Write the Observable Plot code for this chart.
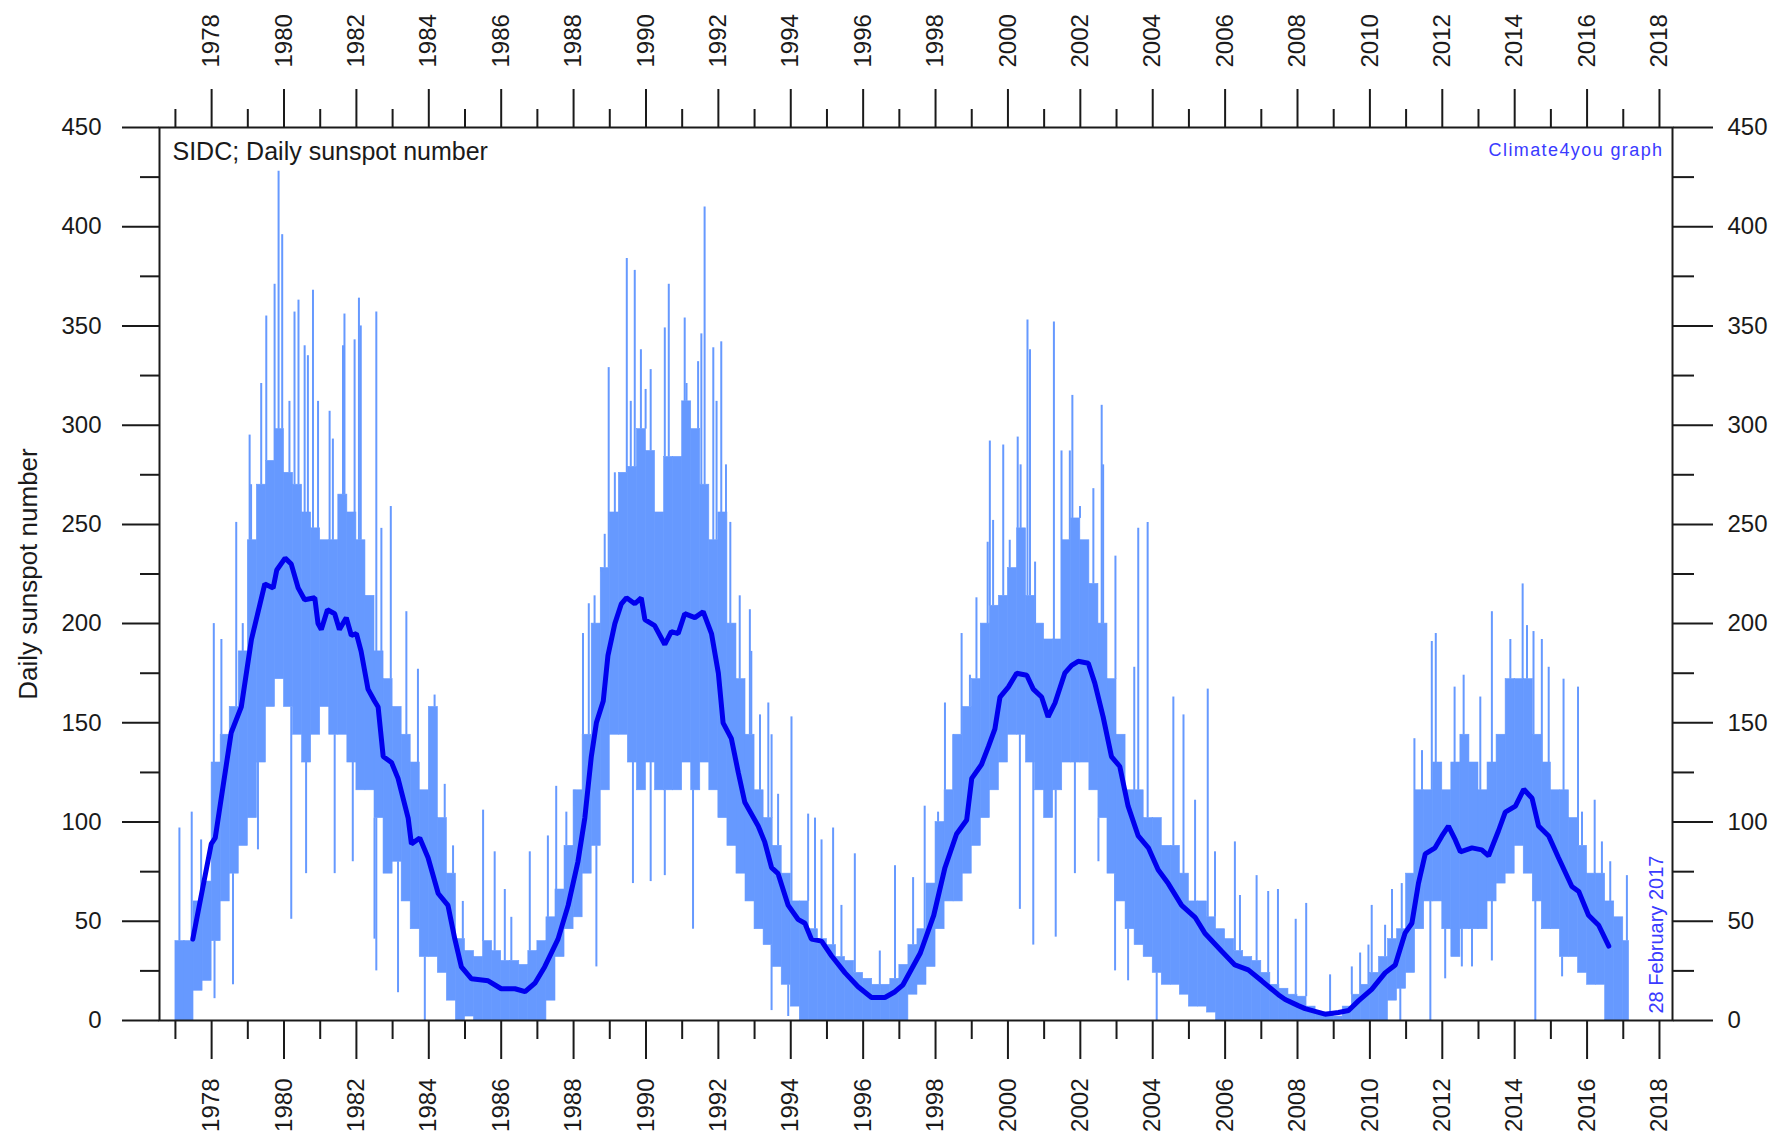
<!DOCTYPE html>
<html><head><meta charset="utf-8">
<script src="https://cdn.jsdelivr.net/npm/d3@7"></script>
<script src="https://cdn.jsdelivr.net/npm/@observablehq/plot@0.6"></script>
<style>body{margin:0;background:#fff} svg{display:block}</style>
</head><body><div id="chart"></div>
<script>
// ---- Daily sunspot number: dense core band per quarter-year ----
const bandStartYear = 1977.0;
const bandStep = 0.25;
const dataEndYear = 2017.16;
const bandLow = [
  0, 0, 15, 20,        // 1977
  40, 60, 74, 88,      // 1978
  102, 130, 158, 172,  // 1979
  158, 144, 130, 144,  // 1980
  158, 144, 144, 130,  // 1981
  116, 116, 102, 74,   // 1982
  80, 60, 46, 32,      // 1983
  32, 24, 10, 0,       // 1984
  2, 0, 0, 0,          // 1985
  0, 0, 0, 0,          // 1986
  0, 10, 32, 46,       // 1987
  52, 74, 88, 116,     // 1988
  144, 144, 130, 116,  // 1989
  130, 116, 116, 116,  // 1990
  130, 116, 130, 116,  // 1991
  102, 88, 74, 60,     // 1992
  46, 38, 27, 18,      // 1993
  7, 0, 0, 0,          // 1994
  0, 0, 0, 0,          // 1995
  0, 0, 0, 0,          // 1996
  0, 13, 18, 27,       // 1997
  46, 60, 60, 74,      // 1998
  88, 102, 116, 130,   // 1999
  144, 144, 130, 116,  // 2000
  102, 116, 130, 130,  // 2001
  130, 116, 102, 74,   // 2002
  60, 46, 38, 32,      // 2003
  24, 18, 18, 13,      // 2004
  7, 7, 4, 0,          // 2005
  0, 0, 0, 0,          // 2006
  0, 0, 0, 0,          // 2007
  0, 0, 0, 0,          // 2008
  0, 0, 0, 0,          // 2009
  0, 0, 10, 16,        // 2010
  24, 46, 60, 60,      // 2011
  46, 32, 46, 46,      // 2012
  46, 60, 69, 74,      // 2013
  88, 74, 60, 46,      // 2014
  46, 32, 32, 24,      // 2015
  18, 18, 0, 0,        // 2016
  0                    // 2017
];
const bandHigh = [
  40, 40, 60, 70,
  130, 144, 158, 186,
  242, 270, 282, 298,
  276, 270, 256, 248,
  242, 242, 265, 256,
  242, 214, 186, 172,
  158, 144, 130, 116,
  158, 102, 74, 41,
  35, 32, 40, 35,
  30, 30, 28, 35,
  40, 52, 66, 88,
  116, 144, 200, 228,
  256, 276, 279, 298,
  287, 256, 284, 284,
  312, 298, 270, 242,
  256, 200, 172, 144,
  116, 102, 88, 74,
  60, 60, 46, 41,
  38, 32, 30, 24,
  21, 18, 18, 21,
  28, 38, 46, 69,
  100, 116, 144, 158,
  172, 200, 209, 214,
  228, 248, 214, 200,
  192, 192, 242, 253,
  242, 220, 200, 172,
  144, 116, 116, 102,
  102, 88, 88, 74,
  60, 60, 52, 46,
  41, 35, 32, 30,
  24, 18, 16, 13,
  12, 7, 4, 4,
  2, 7, 13, 18,
  24, 32, 41, 46,
  74, 116, 116, 130,
  116, 130, 144, 130,
  116, 130, 144, 172,
  172, 172, 144, 130,
  116, 116, 102, 88,
  74, 74, 60, 52,
  40
];

// ---- Individual tall daily spikes ----
const spikeYears = [
  1977.11, 1977.45, 1977.71, 1978.06, 1978.27, 1978.68, 1978.86, 1979.05, 1979.09, 1979.37,
  1979.51, 1979.74, 1979.85, 1979.95, 1980.15, 1980.29, 1980.40, 1980.57, 1980.66, 1980.80,
  1980.94, 1981.26, 1981.35, 1981.63, 1981.67, 1981.95, 1982.07, 1982.12, 1982.55, 1982.69,
  1982.95, 1983.38, 1983.70, 1984.16, 1984.44, 1984.67, 1984.94, 1985.50, 1985.82, 1986.10,
  1986.28, 1986.79, 1987.29, 1987.52, 1987.80, 1988.03, 1988.26, 1988.42, 1988.58, 1988.77,
  1988.86, 1988.97, 1989.14, 1989.47, 1989.58, 1989.69, 1989.86, 1989.99, 1990.13, 1990.52,
  1990.63, 1991.07, 1991.12, 1991.44, 1991.53, 1991.62, 1991.86, 1991.95, 1992.08, 1992.21,
  1992.33, 1992.59, 1992.87, 1992.91, 1993.15, 1993.38, 1993.47, 1993.65, 1994.02, 1994.48,
  1994.67, 1994.85, 1995.17, 1995.40, 1995.77, 1996.46, 1996.88,
  1997.38, 1997.70, 1998.07, 1998.26, 1998.49, 1998.72, 1998.95, 1999.13, 1999.44, 1999.50,
  1999.59, 1999.87, 2000.05, 2000.27, 2000.35, 2000.54, 2000.61, 2000.75, 2001.27, 2001.48,
  2001.71, 2001.78, 2001.99, 2002.36, 2002.59, 2002.63, 2002.97, 2003.49, 2003.60, 2003.86,
  2004.57, 2004.85, 2005.17, 2005.52, 2005.72, 2006.27, 2006.41, 2006.87, 2007.19, 2007.46,
  2007.95, 2008.24, 2008.90, 2009.50, 2009.73, 2009.96, 2010.05, 2010.42, 2010.61, 2010.88,
  2011.23, 2011.44, 2011.71, 2011.82, 2012.34, 2012.59, 2013.05, 2013.37, 2013.88, 2014.22,
  2014.34, 2014.52, 2014.75, 2014.94, 2015.35, 2015.75, 2015.86, 2016.21, 2016.41, 2016.64,
  2017.10
];
const spikeTops = [
  97, 105, 91, 200, 192, 251, 200, 295, 270, 321,
  355, 371, 428, 396, 312, 357, 363, 340, 335, 368,
  312, 307, 293, 340, 356, 343, 364, 350, 357, 248,
  259, 206, 177, 164, 119, 88, 60, 106, 85, 66,
  52, 85, 93, 118, 105, 108, 195, 210, 214, 226,
  245, 329, 276, 384, 312, 378, 338, 318, 328, 349,
  371, 354, 321, 332, 346, 410, 339, 312, 342, 280,
  251, 214, 207, 186, 154, 160, 144, 114, 153, 104,
  102, 91, 97, 58, 84, 35, 78,
  72, 108, 105, 160, 144, 195, 174, 213, 241, 292,
  252, 290, 242, 294, 280, 353, 338, 231, 352, 287,
  287, 315, 259, 268, 310, 280, 234, 178, 248, 251,
  163, 154, 111, 167, 85, 90, 63, 73, 65, 66,
  51, 59, 23, 27, 34, 38, 58, 48, 66, 69,
  142, 136, 191, 195, 168, 174, 163, 206, 192, 220,
  199, 196, 192, 178, 172, 168, 105, 111, 90, 80,
  73
];

// ---- Individual deep daily drops ----
const dipYears = [
  1978.08, 1978.59, 1979.28, 1980.20, 1980.61, 1981.40, 1981.90, 1982.50, 1982.55, 1983.15,
  1983.89, 1988.63, 1989.64, 1990.13, 1990.52, 1991.30, 1993.47, 1993.93, 2000.33, 2000.70,
  2001.32, 2001.85, 2002.50, 2002.96, 2003.32, 2004.11, 2010.84, 2011.67, 2012.08, 2012.54,
  2012.82, 2013.37, 2014.57, 2015.31
];
const dipBottoms = [
  11, 18, 86, 51, 74, 74, 80, 41, 25, 14,
  0, 27, 69, 70, 73, 46, 5, 2, 56, 38,
  42, 74, 80, 25, 20, 0, 0, 0, 21, 27,
  27, 30, 0, 22
];

// ---- Running mean (dark blue curve) ----
const smoothYears = [
  1977.48, 1977.99, 1978.10, 1978.54, 1978.82, 1979.10, 1979.47, 1979.70, 1979.80, 1980.03,
  1980.20, 1980.39, 1980.57, 1980.85, 1980.94, 1981.03, 1981.20, 1981.40, 1981.53, 1981.72,
  1981.86, 1982.00, 1982.13, 1982.32, 1982.50, 1982.60, 1982.74, 1982.97, 1983.15, 1983.43,
  1983.52, 1983.75, 1983.98, 1984.26, 1984.53, 1984.72, 1984.90, 1985.18, 1985.64, 1986.00,
  1986.38, 1986.66, 1986.94, 1987.20, 1987.57, 1987.85, 1988.12, 1988.31, 1988.49, 1988.63,
  1988.82, 1988.95, 1989.14, 1989.32, 1989.46, 1989.69, 1989.87, 1989.97, 1990.24, 1990.52,
  1990.70, 1990.89, 1991.07, 1991.35, 1991.58, 1991.81, 1992.00, 1992.13, 1992.36, 1992.55,
  1992.73, 1993.10, 1993.28, 1993.47, 1993.65, 1993.93, 1994.20, 1994.39, 1994.57, 1994.85,
  1995.13, 1995.50, 1995.86, 1996.23, 1996.60, 1996.88, 1997.10, 1997.58, 1997.95, 1998.26,
  1998.58, 1998.86, 1999.00, 1999.27, 1999.46, 1999.64, 1999.78, 2000.01, 2000.24, 2000.52,
  2000.70, 2000.93, 2001.11, 2001.30, 2001.57, 2001.76, 2001.94, 2002.22, 2002.40, 2002.63,
  2002.86, 2003.09, 2003.32, 2003.60, 2003.88, 2004.15, 2004.43, 2004.80, 2005.17, 2005.44,
  2005.90, 2006.27, 2006.64, 2007.01, 2007.47, 2007.66, 2008.02, 2008.21, 2008.76, 2009.13,
  2009.41, 2009.69, 2010.05, 2010.42, 2010.70, 2010.97, 2011.16, 2011.34, 2011.53, 2011.80,
  2011.99, 2012.17, 2012.36, 2012.50, 2012.82, 2013.09, 2013.28, 2013.55, 2013.74, 2014.02,
  2014.25, 2014.48, 2014.66, 2014.94, 2015.21, 2015.58, 2015.77, 2016.04, 2016.32, 2016.60
];
const smoothValues = [
  41, 89, 92, 145, 158, 192, 220, 218, 227, 233,
  230, 218, 212, 213, 200, 197, 207, 205, 197, 203,
  194, 195, 186, 167, 161, 158, 133, 130, 122, 102,
  89, 92, 82, 64, 58, 41, 27, 21, 20, 16,
  16, 14.5, 19, 27, 41, 58, 80, 102, 133, 150,
  161, 184, 200, 210, 213, 210, 213, 202, 199, 189.5,
  196, 195, 205, 203, 206, 195, 175, 150, 142, 125,
  110, 98, 90, 77, 74, 58, 51, 49, 41, 40,
  32.5, 24, 17, 11.6, 11.6, 14.5, 18, 34, 53, 77,
  94, 101, 122, 129, 138, 147, 163, 168, 175, 174,
  167, 163, 153, 160, 175, 179, 181, 180, 170, 153,
  133, 128, 108, 93, 87, 76, 69, 58, 52, 44,
  35, 28, 25.5, 20, 13, 10.6, 7.5, 6, 3.2, 4,
  5, 10, 15.7, 24, 28, 44, 49, 69, 84, 87,
  93, 98, 91, 85, 87, 86, 83, 95.5, 105, 108,
  116.5, 112, 98, 93, 82, 67.5, 65, 53, 48, 37.5
];

// ---- Axis ticks ----
const majorYearTicks = [1978,1980,1982,1984,1986,1988,1990,1992,1994,1996,1998,2000,2002,2004,2006,2008,2010,2012,2014,2016,2018];
const minorYearTicks = [1977,1979,1981,1983,1985,1987,1989,1991,1993,1995,1997,1999,2001,2003,2005,2007,2009,2011,2013,2015,2017];
const majorValueTicks = [0,50,100,150,200,250,300,350,400,450];
const minorValueTicks = [25,75,125,175,225,275,325,375,425];

// ---- Build tables ----
const band = bandLow.map((lo, i) => ({
  x1: bandStartYear + i * bandStep,
  x2: Math.min(bandStartYear + (i + 1) * bandStep, dataEndYear),
  lo, hi: bandHigh[i]
}));
const binOf = yr => Math.max(0, Math.min(band.length - 1, Math.floor((yr - bandStartYear) / bandStep)));
const spikes = spikeYears.map((x, i) => ({x, y1: band[binOf(x)].hi, y2: spikeTops[i]}));
const dips = dipYears.map((x, i) => ({x, y1: band[binOf(x)].lo, y2: dipBottoms[i]}));
const smooth = smoothYears.map((x, i) => ({x, y: smoothValues[i]}));

const LIGHT = "#6699ff";
const DARK = "#0000ee";
const INK = "#1a1a1a";
const font = "'Liberation Sans', Arial, sans-serif";

const chart = Plot.plot({
  width: 1783, height: 1136,
  marginLeft: 159, marginRight: 111, marginTop: 127, marginBottom: 116,
  x: {domain: [1976.56, 2018.36], label: null},
  y: {domain: [0, 450], label: null},
  style: {fontFamily: font, fontSize: "24px", color: INK, background: "#fff"},
  marks: [
    Plot.rect(band, {x1: "x1", x2: "x2", y1: "lo", y2: "hi", fill: LIGHT, stroke: LIGHT, strokeWidth: 0.6}),
    Plot.ruleX(spikes, {x: "x", y1: "y1", y2: "y2", stroke: LIGHT, strokeWidth: 2}),
    Plot.ruleX(dips, {x: "x", y1: "y1", y2: "y2", stroke: LIGHT, strokeWidth: 2}),
    Plot.line(smooth, {x: "x", y: "y", stroke: DARK, strokeWidth: 5, strokeLinejoin: "miter"}),
    Plot.frame({stroke: INK, strokeWidth: 2}),
    Plot.axisY(majorValueTicks, {anchor: "left", tickSize: 37, tickPadding: 21, strokeWidth: 2, stroke: INK, tickFormat: d => String(d), fontSize: 24, label: null}),
    Plot.axisY(minorValueTicks, {anchor: "left", tickSize: 19, strokeWidth: 2, stroke: INK, text: null, label: null}),
    Plot.axisY(majorValueTicks, {anchor: "right", tickSize: 40, tickPadding: 15, strokeWidth: 2, stroke: INK, tickFormat: d => String(d), fontSize: 24, label: null}),
    Plot.axisY(minorValueTicks, {anchor: "right", tickSize: 21, strokeWidth: 2, stroke: INK, text: null, label: null}),
    Plot.axisX(majorYearTicks, {anchor: "bottom", tickSize: 39, tickPadding: 19, tickRotate: -90, strokeWidth: 2, stroke: INK, tickFormat: d => String(d), fontSize: 24, label: null}),
    Plot.axisX(minorYearTicks, {anchor: "bottom", tickSize: 19, strokeWidth: 2, stroke: INK, text: null, label: null}),
    Plot.axisX(majorYearTicks, {anchor: "top", tickSize: 39, tickPadding: 21, tickRotate: -90, strokeWidth: 2, stroke: INK, tickFormat: d => String(d), fontSize: 24, label: null}),
    Plot.axisX(minorYearTicks, {anchor: "top", tickSize: 19, strokeWidth: 2, stroke: INK, text: null, label: null}),
    Plot.text(["SIDC; Daily sunspot number"], {frameAnchor: "top-left", textAnchor: "start", lineAnchor: "top", dx: 13, dy: 15, fontSize: 25, fill: INK}),
    Plot.text(["Climate4you graph"], {frameAnchor: "top-right", textAnchor: "end", lineAnchor: "top", dx: -9, dy: 16, fontSize: 18, fill: "#3a3aff"}),
    Plot.text(["28 February 2017"], {frameAnchor: "bottom-right", textAnchor: "start", lineAnchor: "bottom", rotate: -90, dx: -10, dy: -7, fontSize: 20, fill: "#3a3aff"}),
    Plot.text(["Daily sunspot number"], {frameAnchor: "left", textAnchor: "middle", lineAnchor: "bottom", rotate: -90, dx: -123, fontSize: 26, fill: INK})
  ]
});
d3.select(chart).selectAll("text")
  .filter(function () { return this.textContent === "Climate4you graph"; })
  .style("letter-spacing", "1.4px");
document.getElementById("chart").appendChild(chart);
</script>
</body></html>
